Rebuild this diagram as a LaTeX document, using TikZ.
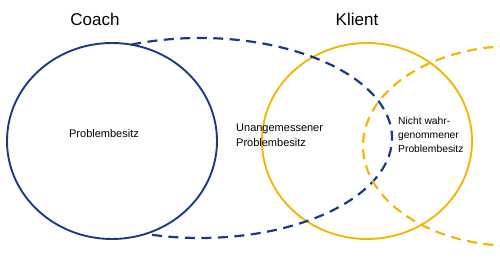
\documentclass[tikz,border=0pt]{standalone}
\usepackage{fontspec}
\setmainfont{Liberation Sans}
\definecolor{coachblue}{HTML}{1B3A84}
\definecolor{klientyellow}{HTML}{F2B705}
\begin{document}
\begin{tikzpicture}[x=1pt,y=1pt,
  solidline/.style={line width=1.9pt},
  dashline/.style={line width=2.2pt, dash pattern=on 10pt off 6.5pt},
  title/.style={font=\fontsize{17}{20}\selectfont, inner sep=0pt},
  lbl/.style={font=\fontsize{11}{15}\selectfont, inner sep=0pt, align=left},
  lblsmall/.style={font=\fontsize{10.3}{14}\selectfont, inner sep=0pt, align=left}]
\useasboundingbox (0,0) rectangle (500,259);
\clip (0,0) rectangle (500,259);
% Coach circle
\draw[solidline, coachblue] (112,118) ellipse [x radius=105, y radius=98];
% Klient circle
\draw[solidline, klientyellow] (367,118) ellipse [x radius=105, y radius=98];
% Blue dashed extension
\coordinate (bstart) at ({200+192*cos(111)},{121+100*sin(111)});
\draw[dashline, coachblue] (bstart) arc[start angle=111, end angle=-104.5, x radius=192, y radius=100];
% Yellow dashed extension
\coordinate (ystart) at ({515+152*cos(92)},{113+100*sin(92)});
\draw[dashline, klientyellow] (ystart) arc[start angle=92, end angle=268, x radius=152, y radius=100];
% Labels
\node[title] (coach) at (95,240) {Coach};
\node[title] (klient) at (357,240) {Klient};
\node[lbl] (pb) at (104,125) {Problembesitz};
\node[lbl, anchor=west] (unang) at (236,123.5) {Unangemessener\\Problembesitz};
\node[lblsmall, anchor=west] (nicht) at (398,124) {Nicht wahr-\\genommener\\Problembesitz};
\end{tikzpicture}
\end{document}
